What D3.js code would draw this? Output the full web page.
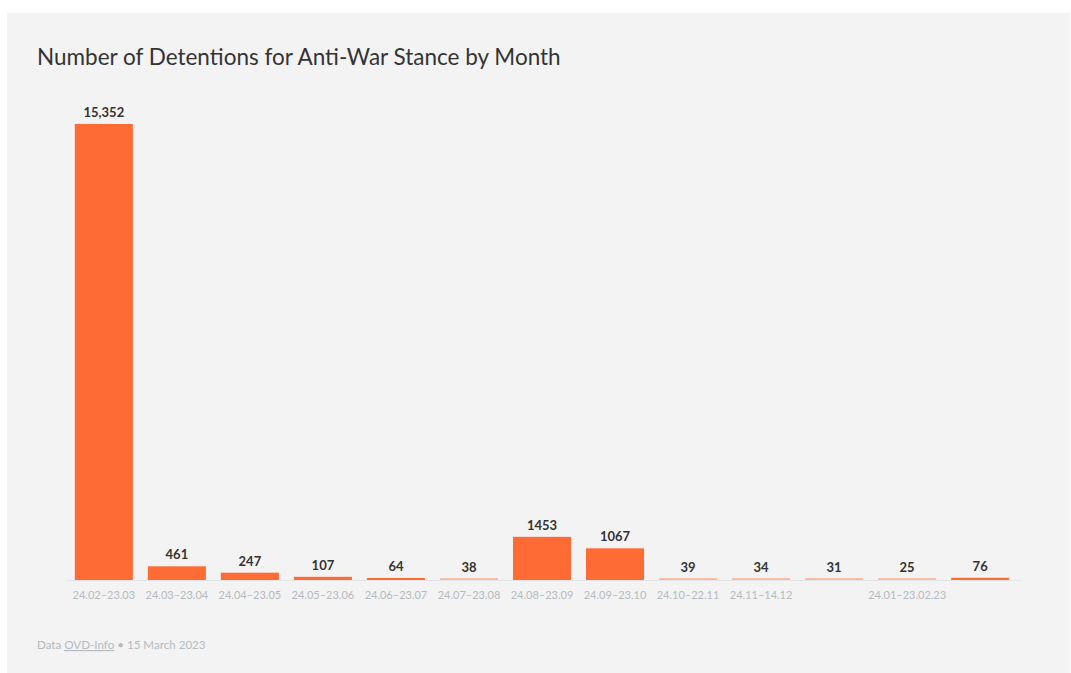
<!DOCTYPE html>
<html><head><meta charset="utf-8">
<script src="https://cdn.jsdelivr.net/npm/d3@7"></script>
<style>
html,body{margin:0;padding:0;background:#fff;}
svg{display:block;}
</style></head>
<body>
<script>
const categories = ["24.02–23.03","24.03–23.04","24.04–23.05","24.05–23.06","24.06–23.07","24.07–23.08","24.08–23.09","24.09–23.10","24.10–22.11","24.11–14.12","","24.01–23.02.23","Feb–Mar"];
const tickLabels = ["24.02–23.03","24.03–23.04","24.04–23.05","24.05–23.06","24.06–23.07","24.07–23.08","24.08–23.09","24.09–23.10","24.10–22.11","24.11–14.12","","24.01–23.02.23",""];
const values = [15352,461,247,107,64,38,1453,1067,39,34,31,25,76];
const valueLabels = ["15,352","461","247","107","64","38","1453","1067","39","34","31","25","76"];

const W = 1071, H = 673;
const svg = d3.select("body").append("svg").attr("width", W).attr("height", H);
svg.append("rect").attr("x",7).attr("y",13).attr("width",1063).attr("height",660).attr("fill","#f3f3f3");

svg.append("text").attr("x",37).attr("y",65)
  .attr("font-family","'Lato','Open Sans',sans-serif")
  .attr("font-size",22.5).attr("fill","#333")
  .text("Number of Detentions for Anti-War Stance by Month");

const idx = categories.map((d,i)=>i);
const x = d3.scaleBand().domain(idx).range([67.5,1016.5]).paddingInner(0.205).paddingOuter(0.1);
const y = d3.scaleLinear().domain([0,15352]).range([580,124]);

const g = svg.append("g");
g.append("line").attr("x1",67).attr("x2",1021).attr("y1",580.5).attr("y2",580.5)
  .attr("stroke","#e2e4e6").attr("stroke-width",1);

g.selectAll("rect.bar").data(values).join("rect").attr("class","bar")
  .attr("x",(d,i)=>x(i)).attr("width",x.bandwidth())
  .attr("y",d=>Math.min(y(d),578)).attr("height",d=>Math.max(580-y(d),2))
  .attr("fill","#ff6b35")
  .attr("fill-opacity",d=> (580-y(d))<1.5 ? 0.4 : 1);

g.selectAll("text.val").data(values).join("text").attr("class","val")
  .attr("x",(d,i)=>x(i)+x.bandwidth()/2).attr("y",d=>y(d)-7)
  .attr("text-anchor","middle")
  .attr("font-family","'Lato','Open Sans',sans-serif").attr("font-weight","bold")
  .attr("font-size",13).attr("fill","#333")
  .text((d,i)=>valueLabels[i]);

const xAxis = d3.axisBottom(x).tickSize(0).tickPadding(0).tickFormat(i=>tickLabels[i]);
const ax = svg.append("g").attr("transform","translate(0,580)").call(xAxis);
ax.select(".domain").remove();
ax.selectAll("text").attr("dy",null).attr("y",18.5)
  .attr("font-family","'Lato','Open Sans',sans-serif").attr("font-size",11)
  .attr("fill","#b3bac1");

const foot = svg.append("text").attr("x",37).attr("y",649)
  .attr("font-family","'Lato','Open Sans',sans-serif").attr("font-size",11.6).attr("fill","#b3bac1");
foot.append("tspan").text("Data ");
foot.append("tspan").attr("text-decoration","underline").text("OVD-Info");
foot.append("tspan").text(" • 15 March 2023");
</script>
</body></html>
